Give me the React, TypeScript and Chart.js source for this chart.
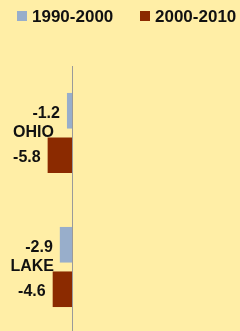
import React, { useEffect, useRef } from "react";
import { Chart, registerables } from "chart.js";

Chart.register(...registerables);

const categories = ["OHIO", "LAKE"];
const seriesNames = ["1990-2000", "2000-2010"];
const values1990 = [-1.2, -2.9];
const values2000 = [-5.8, -4.6];
const seriesColors = ["#98AECB", "#8B2A00"];

const BG = "#FFEEA6";
const FONT = "'Liberation Sans', Arial, sans-serif";
const TEXT = "#111111";

const valueLabels = {
  id: "valueLabels",
  afterDatasetsDraw(chart: any) {
    const ctx = chart.ctx;
    ctx.save();
    ctx.font = `bold 16px ${FONT}`;
    ctx.fillStyle = TEXT;
    ctx.textAlign = "right";
    ctx.textBaseline = "middle";
    chart.data.datasets.forEach((ds: any, di: number) => {
      const meta = chart.getDatasetMeta(di);
      meta.data.forEach((bar: any, i: number) => {
        ctx.fillText(ds.data[i].toFixed(1), bar.x - 7, bar.y + 2.5);
      });
    });
    ctx.restore();
  },
};

const legendPos = [
  { box: 17, text: 32 },
  { box: 140, text: 155 },
];

export default function App() {
  const ref = useRef<HTMLCanvasElement>(null);
  useEffect(() => {
    const chart = new Chart(ref.current!, {
      type: "bar",
      data: {
        labels: categories,
        datasets: [
          { label: seriesNames[0], data: values1990, backgroundColor: seriesColors[0], categoryPercentage: 0.664, barPercentage: 0.8, clip: false as any },
          { label: seriesNames[1], data: values2000, backgroundColor: seriesColors[1], categoryPercentage: 0.664, barPercentage: 0.8, clip: false as any },
        ],
      },
      options: {
        indexAxis: "y",
        animation: false,
        responsive: false,
        maintainAspectRatio: false,
        layout: { autoPadding: false, padding: { top: 66, bottom: 0, left: 0, right: 0 } },
        scales: {
          x: { display: false, min: 0, max: 40 },
          y: {
            position: "left",
            afterFit: (s: any) => {
              s.width = 72;
              s.paddingTop = 0;
              s.paddingBottom = 0;
            },
            grid: { display: false, drawTicks: false },
            border: { display: true, color: "#9A9A9A", width: 1 },
            ticks: { padding: 18, color: TEXT, font: { family: FONT, size: 16, weight: "bold" } },
          },
        },
        plugins: {
          legend: { display: false },
          tooltip: { enabled: false },
        },
      },
      plugins: [valueLabels],
    });
    return () => chart.destroy();
  }, []);
  return (
    <div style={{ position: "fixed", left: 0, top: 0, width: 240, height: 331, background: BG, overflow: "hidden" }}>
      <canvas ref={ref} width={240} height={334} style={{ display: "block" }} />
      {seriesNames.map((name, i) => (
        <React.Fragment key={name}>
          <div style={{ position: "absolute", left: legendPos[i].box, top: 11, width: 10, height: 10, background: seriesColors[i] }} />
          <div
            style={{
              position: "absolute",
              left: legendPos[i].text,
              top: 7,
              lineHeight: "20px",
              fontFamily: FONT,
              fontWeight: "bold",
              fontSize: 17,
              color: TEXT,
              whiteSpace: "nowrap",
            }}
          >
            {name}
          </div>
        </React.Fragment>
      ))}
    </div>
  );
}
